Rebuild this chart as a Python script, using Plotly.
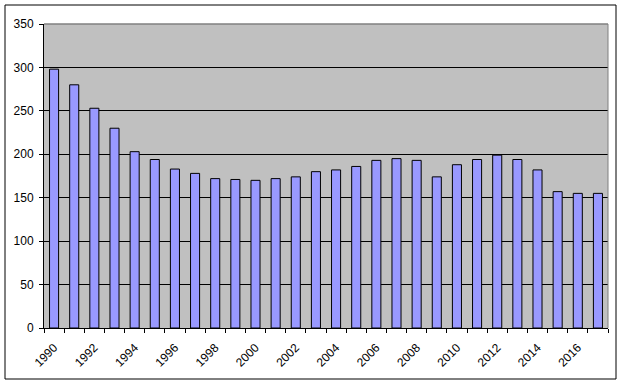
import plotly.graph_objects as go

years = list(range(1990, 2018))
values = [298, 280, 253, 230, 203, 194, 183, 178, 172, 171, 170, 172, 174, 180,
          182, 186, 193, 195, 193, 174, 188, 194, 199, 194, 182, 157, 155, 155]
y_ticks = [0, 50, 100, 150, 200, 250, 300, 350]
x_label_years = years[::2]

W, H = 624, 386
L, R, T, B = 44, 16, 24, 58
pw, ph = W - L - R, H - T - B

fig = go.Figure(go.Bar(
    x=years, y=values,
    marker=dict(color="#9999FF", line=dict(color="black", width=1)),
    width=0.45,
))

font = dict(family="Arial, Liberation Sans, sans-serif", size=12, color="black")

fig.update_layout(
    width=W, height=H,
    margin=dict(l=L, r=R, t=T, b=B, pad=0, autoexpand=False),
    paper_bgcolor="white",
    plot_bgcolor="#C0C0C0",
    showlegend=False,
    font=font,
    xaxis=dict(
        range=[years[0] - 0.5, years[-1] + 0.5],
        automargin=False,
        tickmode="array",
        tickvals=x_label_years,
        ticktext=[str(y) for y in x_label_years],
        tickangle=-45,
        ticks="",
        showgrid=False,
        showline=True, linecolor="black", linewidth=1,
        zeroline=False,
        minor=dict(tickmode="array",
                   tickvals=[y - 0.5 for y in years] + [years[-1] + 0.5],
                   ticks="outside", ticklen=4, tickcolor="black", showgrid=False),
        tickfont=font,
        ticklabelstandoff=7,
    ),
    yaxis=dict(
        range=[0, 350],
        automargin=False,
        tickmode="array",
        tickvals=y_ticks,
        ticks="outside", ticklen=4, tickcolor="black",
        showgrid=True, gridcolor="black", gridwidth=1,
        showline=True, linecolor="black", linewidth=1,
        zeroline=False,
        tickfont=font,
        ticklabelstandoff=3,
    ),
    shapes=[
        dict(type="line", xref="paper", yref="paper", x0=0, x1=1, y0=1, y1=1,
             line=dict(color="#808080", width=1.5), layer="above"),
        dict(type="line", xref="paper", yref="paper", x0=1, x1=1, y0=0, y1=1,
             line=dict(color="#808080", width=1), layer="above"),
        dict(type="rect", xref="paper", yref="paper",
             x0=(5 - L) / pw, x1=(616 - L) / pw,
             y0=(H - 379 - B) / ph, y1=(H - 5 - B) / ph,
             line=dict(color="black", width=1), layer="below"),
    ],
)

fig.write_html(
    "out.html",
    config={"displayModeBar": False},
    post_script="document.body.style.margin='0';document.body.style.overflow='hidden';",
)
